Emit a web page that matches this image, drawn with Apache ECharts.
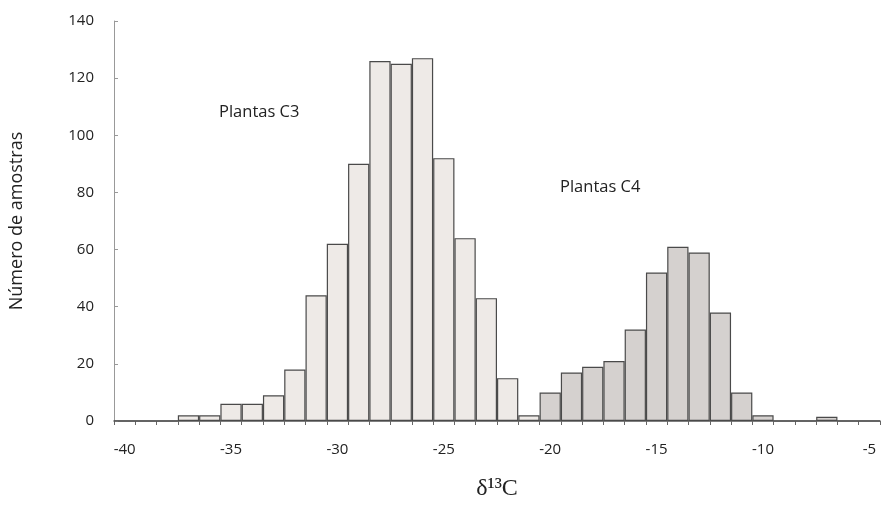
<!DOCTYPE html>
<html>
<head>
<meta charset="utf-8">
<script src="https://cdn.jsdelivr.net/npm/echarts@6/dist/echarts.min.js"></script>
<style>
html,body{margin:0;padding:0;background:#fff;}
#chart{width:887px;height:506px;}
</style>
</head>
<body>
<div id="chart"></div>
<script>
// Bins of δ13C (‰), one unit wide
var categories = ['-40','-39','-38','-37','-36','-35','-34','-33','-32','-31','-30','-29','-28','-27','-26','-25','-24','-23','-22','-21','-20','-19','-18','-17','-16','-15','-14','-13','-12','-11','-10','-9','-8','-7','-6','-5'];
// Number of samples in each bin
var counts = [0,0,0,2,2,6,6,9,18,44,62,90,126,125,127,92,64,43,15,2,10,17,19,21,32,52,61,59,38,10,2,0,0,1.5,0,0];
var yTicks = [0,20,40,60,80,100,120,140];
var c4Start = '-20';
var labelC3 = 'Plantas C3';
var labelC4 = 'Plantas C4';

var c4Index = categories.indexOf(c4Start);
var barData = counts.map(function(v, i){
  return {
    value: v,
    itemStyle: { color: i >= c4Index ? '#d5d1cf' : '#eeeae7' }
  };
});

var chart = echarts.init(document.getElementById('chart'));
chart.setOption({
  backgroundColor: '#ffffff',
  animation: false,
  textStyle: { fontFamily: 'Open Sans' },
  grid: { left: 113, right: 7, top: 21, bottom: 83, containLabel: false },
  xAxis: {
    type: 'category',
    data: categories,
    boundaryGap: true,
    name: 'δ¹³C',
    nameLocation: 'middle',
    nameGap: 56,
    nameTextStyle: { fontFamily: 'Liberation Serif', fontSize: 24, color: '#222' },
    axisLine: { show: true, lineStyle: { color: '#555', width: 1.5 } },
    axisTick: { show: true, length: 4, interval: 0, alignWithLabel: false, lineStyle: { color: '#666' } },
    axisLabel: { interval: 4, color: '#222', fontSize: 15, margin: 21, fontFamily: 'Open Sans' },
    splitLine: { show: false }
  },
  yAxis: {
    type: 'value',
    min: yTicks[0],
    max: yTicks[yTicks.length - 1],
    interval: yTicks[1] - yTicks[0],
    name: 'Número de amostras',
    nameLocation: 'middle',
    nameGap: 88,
    nameRotate: 90,
    nameTextStyle: { fontFamily: 'Open Sans', fontSize: 18, color: '#222' },
    axisLine: { show: true, lineStyle: { color: '#999', width: 1 } },
    axisTick: { show: true, inside: true, length: 4, lineStyle: { color: '#999' } },
    axisLabel: { color: '#222', fontSize: 15, margin: 20, fontFamily: 'Open Sans' },
    splitLine: { show: false }
  },
  series: [{
    type: 'bar',
    data: barData,
    barCategoryGap: '0%',
    barGap: '0%',
    itemStyle: { borderColor: '#4a4a4a', borderWidth: 1.2 }
  }],
  graphic: [
    { type: 'text', left: 219, top: 104, style: { text: labelC3, fontFamily: 'Open Sans', fontSize: 16.5, fill: '#222' } },
    { type: 'text', left: 560, top: 179, style: { text: labelC4, fontFamily: 'Open Sans', fontSize: 16.5, fill: '#222' } }
  ]
});
</script>
</body>
</html>
